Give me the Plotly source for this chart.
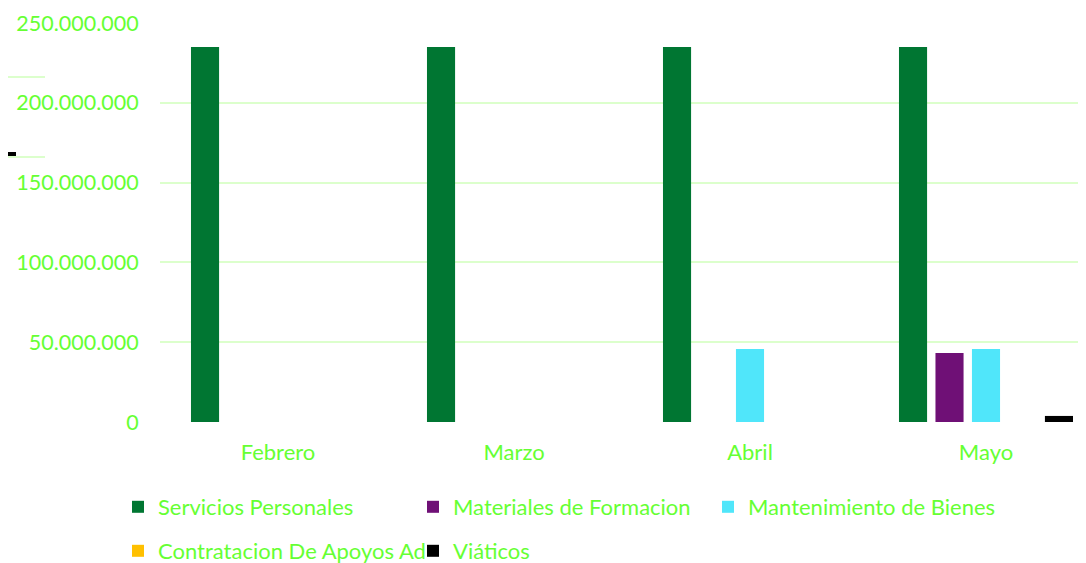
import plotly.graph_objects as go

months = ["Febrero", "Marzo", "Abril", "Mayo"]
servicios = [235_000_000, 235_000_000, 235_000_000, 235_000_000]
materiales = [0, 0, 0, 43_200_000]
mantenimiento = [0, 0, 45_700_000, 45_700_000]
contratacion = [0, 0, 0, 0]
viaticos = [0, 0, 0, 3_800_000]

series = [
    ("Servicios Personales", servicios, "#007632", "legend"),
    ("Materiales de Formacion", materiales, "#6F1076", "legend"),
    ("Mantenimiento de Bienes", mantenimiento, "#50E6FA", "legend"),
    ("Contratacion De Apoyos Ad", contratacion, "#FFC000", "legend2"),
    ("Viáticos", viaticos, "#000000", "legend2"),
]

y_ticks = [0, 50_000_000, 100_000_000, 150_000_000, 200_000_000, 250_000_000]
y_tick_text = ["0", "50.000.000", "100.000.000", "150.000.000", "200.000.000", "250.000.000"]

TXT = "#66FF33"
GRID = "#DCFFCC"
FONT = "Lato"
FS = 22

fig = go.Figure()
for name, vals, color, lg in series:
    fig.add_trace(go.Bar(x=months, y=vals, name=name, marker_color=color,
                         marker_line_width=0, legend=lg))

OFF = 8  # page body margin
W, H = 1086 - OFF, 563 - OFF
L = 160 - OFF
T = 23 - OFF
PB = 422 - OFF  # plot bottom in figure px
B = H - PB
plot_w = W - L
plot_h = PB - T
cat_w = 236


def px_x(page_x):
    return (page_x - OFF - L) / plot_w


def px_y(page_y):
    return (PB - (page_y - OFF)) / plot_h


fig.update_layout(
    width=W, height=H,
    margin=dict(l=L, r=0, t=T, b=B, autoexpand=False),
    paper_bgcolor="white", plot_bgcolor="white",
    font=dict(family=FONT, size=FS, color=TXT),
    barmode="group", bargap=0.227, bargroupgap=0.23,
    xaxis=dict(range=[-0.5, -0.5 + plot_w / cat_w], showgrid=False, zeroline=False,
               showline=False, ticks="outside", ticklen=11, tickcolor="rgba(0,0,0,0)",
               tickfont=dict(family=FONT, size=FS, color=TXT)),
    yaxis=dict(range=[0, 250_000_000], tickvals=y_ticks, ticktext=y_tick_text,
               showgrid=True, gridcolor=GRID, gridwidth=2, zeroline=False,
               showline=False, ticks="outside", ticklen=16, tickcolor="rgba(0,0,0,0)",
               tickfont=dict(family=FONT, size=21.5, color=TXT)),
    legend=dict(orientation="h", x=px_x(118), xanchor="left",
                y=px_y(507), yanchor="middle", entrywidth=250,
                font=dict(family=FONT, size=FS, color=TXT), bgcolor="rgba(0,0,0,0)"),
    legend2=dict(orientation="h", x=px_x(118), xanchor="left",
                 y=px_y(551), yanchor="middle", entrywidth=250,
                 font=dict(family=FONT, size=FS, color=TXT), bgcolor="rgba(0,0,0,0)"),
    shapes=[
        dict(type="line", xref="paper", yref="paper", x0=px_x(0), x1=px_x(45),
             y0=px_y(77), y1=px_y(77), line=dict(color=GRID, width=2)),
        dict(type="line", xref="paper", yref="paper", x0=px_x(0), x1=px_x(45),
             y0=px_y(157), y1=px_y(157), line=dict(color=GRID, width=2)),
        dict(type="line", xref="paper", yref="paper", x0=px_x(0), x1=px_x(16),
             y0=px_y(154), y1=px_y(154), line=dict(color="black", width=4)),
    ],
)
fig.write_html("out.html")
